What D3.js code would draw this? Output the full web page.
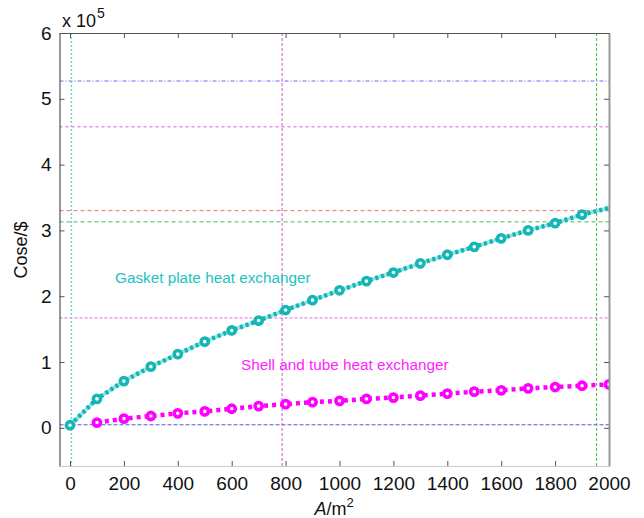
<!DOCTYPE html>
<html><head><meta charset="utf-8">
<script src="https://cdn.jsdelivr.net/npm/d3@7"></script>
<style>body{margin:0;background:#fff;} text{font-family:"Liberation Sans",Arial,Helvetica,sans-serif;}</style>
</head><body><svg id="c" width="644" height="518"></svg>
<script>
const areas = [0,100,200,300,400,500,600,700,800,900,1000,1100,1200,1300,1400,1500,1600,1700,1800,1900,2000];
const gasket = [0.04,0.44,0.71,0.93,1.12,1.31,1.48,1.63,1.79,1.94,2.09,2.23,2.36,2.50,2.63,2.75,2.88,3.00,3.11,3.24,3.34];
const shellAreas = [100,200,300,400,500,600,700,800,900,1000,1100,1200,1300,1400,1500,1600,1700,1800,1900,2000];
const shell = [0.08,0.14,0.18,0.22,0.25,0.29,0.33,0.36,0.39,0.41,0.44,0.46,0.49,0.52,0.55,0.57,0.60,0.62,0.64,0.66];
const xTicks = [0,200,400,600,800,1000,1200,1400,1600,1800,2000];
const yTicks = [0,1,2,3,4,5,6];
const hLines = [
  {v:5.27,c:"#6a6af0",d:"4,2,1,2",w:1},
  {v:4.575,c:"#e98be9",d:"3,3",w:1.6},
  {v:3.30,c:"#ee7070",d:"4,3",w:1},
  {v:3.13,c:"#44bb44",d:"4,3",w:1},
  {v:1.67,c:"#dd66dd",d:"3,2",w:1},
  {v:0.046,c:"#5555dd",d:"4,2",w:1}
];
const vLines = [
  {v:5,c:"#66dada",d:"2,2",w:1.5},
  {v:787,c:"#cc55cc",d:"3,2",w:1},
  {v:1954,c:"#44bb44",d:"3,2",w:1}
];

const svg = d3.select("#c");
const L=59.5,R=609,T=33,B=466;
const x = d3.scaleLinear().domain([-39,2000]).range([L,R]);
const y = d3.scaleLinear().domain([-0.58,6]).range([B,T]);

svg.append("defs").append("clipPath").attr("id","clip").append("rect").attr("x",L).attr("y",T).attr("width",R-L).attr("height",B-T);
const g = svg.append("g").attr("clip-path","url(#clip)");

hLines.forEach(h=>g.append("line").attr("x1",L).attr("x2",R).attr("y1",y(h.v)).attr("y2",y(h.v))
  .attr("stroke",h.c).attr("stroke-width",h.w).attr("stroke-dasharray",h.d));
vLines.forEach(h=>g.append("line").attr("y1",T).attr("y2",B).attr("x1",x(h.v)).attr("x2",x(h.v))
  .attr("stroke",h.c).attr("stroke-width",h.w).attr("stroke-dasharray",h.d));

const gd = areas.map((a,i)=>[a,gasket[i]]);
const sd = shellAreas.map((a,i)=>[a,shell[i]]);
const line = d3.line().x(d=>x(d[0])).y(d=>y(d[1]));

g.append("path").attr("d",line(gd)).attr("fill","none").attr("stroke","#8fe3e3").attr("stroke-width",3.5);
g.append("path").attr("d",line(gd)).attr("fill","none").attr("stroke","#10b4b4").attr("stroke-width",4.5).attr("stroke-dasharray","3,3");
g.append("path").attr("d",line(sd)).attr("fill","none").attr("stroke","#ff00ff").attr("stroke-width",4.5).attr("stroke-dasharray","4,4");

g.selectAll(".gm").data(gd.slice(0,20)).enter().append("circle").attr("cx",d=>x(d[0])).attr("cy",d=>y(d[1]))
  .attr("r",3.6).attr("fill","#fff").attr("stroke","#14b6b6").attr("stroke-width",3.6);
g.selectAll(".sm").data(sd).enter().append("circle").attr("cx",d=>x(d[0])).attr("cy",d=>y(d[1]))
  .attr("r",3.6).attr("fill","#fff").attr("stroke","#ff00ff").attr("stroke-width",3.6);

// axes
const fmt = d3.format("d");
const axB = svg.append("g").attr("transform",`translate(0,${B})`).call(d3.axisBottom(x).tickValues(xTicks).tickFormat(fmt).tickSizeInner(-5).tickSizeOuter(0).tickPadding(11));
const axT = svg.append("g").attr("transform",`translate(0,${T})`).call(d3.axisTop(x).tickValues(xTicks).tickSizeInner(-5).tickSizeOuter(0).tickFormat(""));
const axL = svg.append("g").attr("transform",`translate(${L},0)`).call(d3.axisLeft(y).tickValues(yTicks).tickFormat(fmt).tickSizeInner(-5).tickSizeOuter(0).tickPadding(8));
const axR = svg.append("g").attr("transform",`translate(${R},0)`).call(d3.axisRight(y).tickValues(yTicks).tickSizeInner(-5).tickSizeOuter(0).tickFormat(""));
[axB,axT,axL,axR].forEach(a=>{a.select(".domain").attr("stroke","#555").attr("stroke-width",1.2);a.selectAll(".tick line").attr("stroke","#555");});
axB.select(".domain").attr("stroke","#ccc");
axR.select(".domain").attr("stroke","#999").attr("stroke-width",2);
[axB,axL].forEach(a=>a.selectAll(".tick text").attr("font-size",19).attr("fill","#111").style("font-family","Liberation Sans, Arial, sans-serif"));

// labels
const e = svg.append("text").attr("x",62).attr("y",27).attr("font-size",18).attr("fill","#111");
e.append("tspan").text("x 10");
e.append("tspan").attr("font-size",14).attr("dy",-9).attr("dx",1).text("5");
svg.append("text").attr("transform","translate(27,250) rotate(-90)").attr("text-anchor","middle").attr("font-size",18).attr("fill","#111").text("Cose/$");
const xl = svg.append("text").attr("x",334).attr("y",515).attr("text-anchor","middle").attr("font-size",18).attr("fill","#111");
xl.append("tspan").attr("font-style","italic").text("A");
xl.append("tspan").text("/m");
xl.append("tspan").attr("font-size",13).attr("dy",-8).text("2");

svg.append("text").attr("x",115).attr("y",283).attr("font-size",15.3).attr("fill","#22c2c2").text("Gasket plate heat exchanger");
svg.append("text").attr("x",241).attr("y",370).attr("font-size",15.3).attr("fill","#ff22ff").text("Shell and tube heat exchanger");
</script></body></html>
